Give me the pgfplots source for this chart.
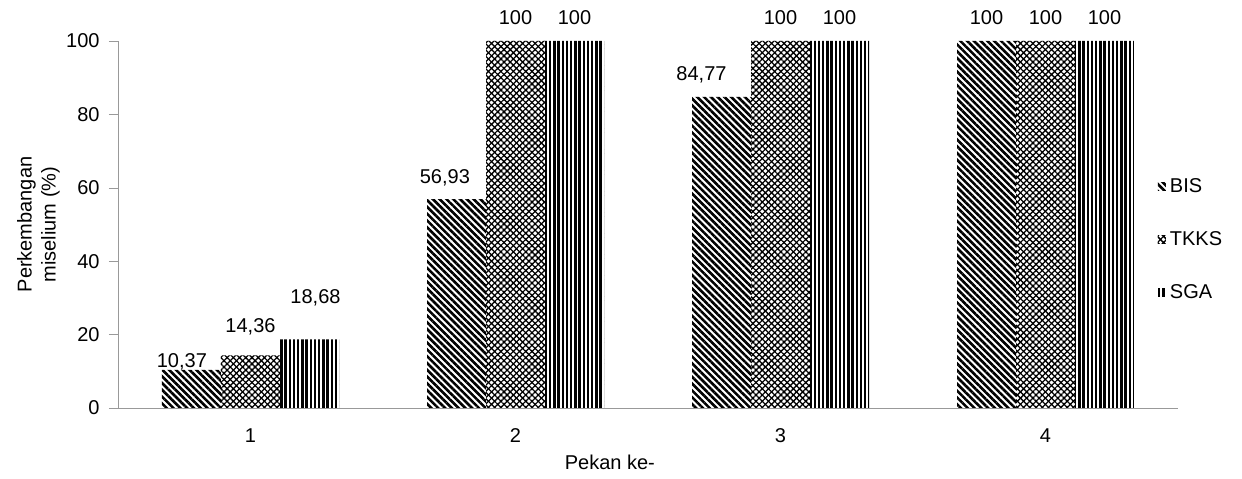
\documentclass[border=0pt]{standalone}
\usepackage{fontspec}
\setmainfont{Liberation Sans}
\usepackage{pgfplots}
\pgfplotsset{compat=1.18}
\usepackage{pgfplotstable}
\usetikzlibrary{patterns.meta}

% x, value, label text, label shifts (pt)
\pgfplotstableread{
x y lbl dx dy
1 10.37 10,37 -4.8 1.0
2 56.93 56,93 -5.8 7.6
3 84.77 84,77 -10 7.9
4 100 100 0 7.9
}\bis
\pgfplotstableread{
x y lbl dx dy
1 14.36 14,36 0 11.0
2 100 100 0 7.9
3 100 100 0 7.9
4 100 100 0 7.9
}\tkks
\pgfplotstableread{
x y lbl dx dy
1 18.68 18,68 3 17.8
2 100 100 0 7.9
3 100 100 0 7.9
4 100 100 0 7.9
}\sga

\tikzset{
  bispat/.style={pattern={Lines[angle=-45,distance=2.4pt,line width=1.3pt]}},
  sgapat/.style={pattern={Lines[angle=90,distance=2.1pt,line width=1.15pt]}},
  tkkspat/.style={pattern={Lines[angle=45,distance=2.2pt,line width=0.65pt]},
    postaction={pattern={Lines[angle=-45,distance=2.2pt,line width=0.65pt]}}},
}

\begin{document}
\begin{tikzpicture}
\begin{axis}[
  width=530pt, height=183.5pt, scale only axis,
  font=\fontsize{10}{12}\selectfont,
  /pgf/number format/assume math mode=true,
  ybar=0pt, bar width=29.5pt,
  xmin=0.5, xmax=4.5, ymin=0, ymax=100,
  axis lines=left,
  axis line style={-, draw=gray!80},
  tick align=outside, major tick length=4.5pt,
  xtick={1,2,3,4},
  x tick style={draw=none},
  extra x ticks={0.5,1.5,2.5,3.5,4.5},
  extra x tick labels={},
  extra x tick style={tick align=outside, major tick length=3.5pt,
    tick style={draw=gray!80}},
  xticklabel style={yshift=-2.3pt},
  ytick={0,20,...,100},
  y tick style={draw=gray!80},
  yticklabel style={xshift=-1.2pt},
  xlabel={Pekan ke-},
  xlabel style={at={(axis description cs:0.464,-0.147)}, anchor=center},
  ylabel={Perkembangan\\miselium (\%)},
  ylabel style={align=center, at={(axis description cs:-0.075,0.5)}, anchor=center},
  clip=false,
  point meta=explicit symbolic,
  nodes near coords,
  visualization depends on={\thisrow{dx} \as \dx},
  visualization depends on={\thisrow{dy} \as \dy},
  nodes near coords style={anchor=south, inner sep=0pt, text depth=0pt,
    xshift=\dx pt, yshift=\dy pt, font=\fontsize{10}{12}\selectfont},
  legend style={at={(axis description cs:0.975,0.458)}, anchor=west,
    draw=none, fill=none, row sep=14pt, font=\fontsize{10}{12}\selectfont},
  legend cell align=left,
]
\addplot[draw=none, bispat,
  legend image code/.code={\fill[bispat] (0pt,-2pt) rectangle (4pt,2pt);}]
  table[x=x, y=y, meta=lbl] {\bis};
\addlegendentry{BIS}
\addplot[draw=none, tkkspat,
  legend image code/.code={\fill[tkkspat] (0pt,-2pt) rectangle (4pt,2pt);}]
  table[x=x, y=y, meta=lbl] {\tkks};
\addlegendentry{TKKS}
\addplot[draw=none, sgapat,
  legend image code/.code={\fill[sgapat] (0pt,-2pt) rectangle (4pt,2pt);}]
  table[x=x, y=y, meta=lbl] {\sga};
\addlegendentry{SGA}
\end{axis}
\pgfresetboundingbox
\path ([shift={(-59pt,-35.5pt)}]current axis.south west)
  rectangle ([shift={(32pt,20.5pt)}]current axis.north east);
\end{tikzpicture}
\end{document}
